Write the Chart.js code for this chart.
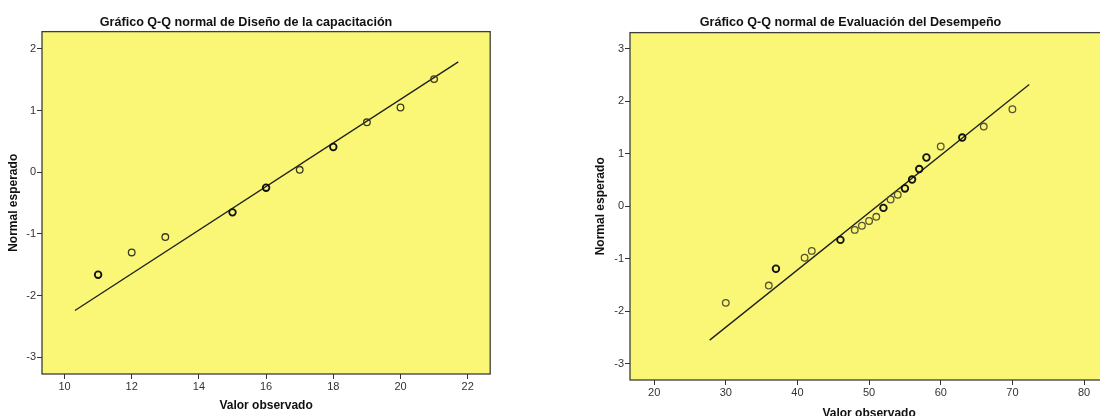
<!DOCTYPE html>
<html>
<head>
<meta charset="utf-8">
<script src="https://cdn.jsdelivr.net/npm/chart.js@4/dist/chart.umd.min.js"></script>
<style>
body{margin:0;background:#fff;overflow:hidden;width:1100px;height:416px;position:relative}
canvas{position:absolute;top:0}
#qqDiseno{left:0}
#qqEvaluacion{left:588px}
</style>
</head>
<body>
<canvas id="qqDiseno" width="496" height="416"></canvas>
<canvas id="qqEvaluacion" width="526" height="424"></canvas>
<script>
// Diseño de la capacitación
const disenoValor = [11, 12, 13, 15, 16, 17, 18, 19, 20, 21];
const disenoEsperado = [-1.66, -1.30, -1.05, -0.65, -0.25, 0.04, 0.41, 0.81, 1.05, 1.51];
const disenoRepetido = [1, 0, 0, 1, 1, 0, 1, 0, 0, 0];
const disenoRectaX = [10.31, 21.72];
const disenoRectaY = [-2.24, 1.79];
const disenoTicksX = [10, 12, 14, 16, 18, 20, 22];
const disenoTicksY = [-3, -2, -1, 0, 1, 2];
const disenoRangoX = [9.33, 22.67];
const disenoRangoY = [-3.27, 2.28];

// Evaluación del Desempeño
const evalValor = [30, 36, 37, 41, 42, 46, 48, 49, 50, 51, 52, 53, 54, 55, 56, 57, 58, 60, 63, 66, 70];
const evalEsperado = [-1.84, -1.51, -1.19, -0.98, -0.85, -0.64, -0.45, -0.37, -0.28, -0.20, -0.03, 0.13, 0.22, 0.34, 0.51, 0.71, 0.93, 1.14, 1.31, 1.52, 1.85];
const evalRepetido = [0, 0, 1, 0, 0, 1, 0, 0, 0, 0, 1, 0, 0, 1, 1, 1, 1, 0, 1, 0, 0];
const evalRectaX = [27.75, 72.35];
const evalRectaY = [-2.55, 2.32];
const evalTicksX = [20, 30, 40, 50, 60, 70, 80];
const evalTicksY = [-3, -2, -1, 0, 1, 2, 3];
const evalRangoX = [16.63, 83.37];
const evalRangoY = [-3.31, 3.31];

const fuente = "'Liberation Sans', Arial, sans-serif";

// fondo amarillo y marco del area de graficos
const marco = {
    id: 'marco',
    beforeDraw(chart) {
        const a = chart.chartArea, ctx = chart.ctx;
        ctx.save();
        ctx.fillStyle = '#f9f775';
        ctx.fillRect(a.left, a.top, a.right - a.left, a.bottom - a.top);
        ctx.restore();
    },
    afterDraw(chart) {
        const a = chart.chartArea, ctx = chart.ctx;
        ctx.save();
        ctx.strokeStyle = '#3c3c3c';
        ctx.lineWidth = 1.3;
        ctx.strokeRect(a.left, a.top, a.right - a.left, a.bottom - a.top);
        ctx.restore();
    }
};

function qqChart(id, titulo, valores, esperados, repetidos, rectaX, rectaY, ticksX, ticksY, rangoX, rangoY, conf) {
    let puntos = valores.map((v, i) => ({x: v, y: esperados[i]}));
    let recta = rectaX.map((v, i) => ({x: v, y: rectaY[i]}));
    let ctx = document.getElementById(id).getContext('2d');
    return new Chart(ctx, {
        type: 'scatter',
        data: {
            datasets: [{
                data: puntos,
                pointStyle: 'circle',
                pointRadius: 3.3,
                backgroundColor: 'rgba(0,0,0,0)',
                pointBorderColor: repetidos.map(r => r ? '#111' : conf.colorSimple),
                pointBorderWidth: repetidos.map(r => r ? 1.8 : 1.3)
            }, {
                type: 'line',
                data: recta,
                borderColor: '#1e1e1e',
                borderWidth: 1.3,
                pointRadius: 0,
                fill: false
            }]
        },
        options: {
            responsive: false,
            animation: false,
            layout: {padding: {left: 0, right: conf.derecha, top: 0, bottom: 0}},
            plugins: {
                legend: {display: false},
                tooltip: {enabled: false},
                title: {
                    display: true,
                    text: titulo,
                    color: '#111',
                    font: {family: fuente, size: 12.6, weight: 'bold', lineHeight: 1.2},
                    padding: {top: 14.5, bottom: conf.tituloAbajo}
                }
            },
            scales: {
                x: {
                    type: 'linear',
                    min: rangoX[0],
                    max: rangoX[1],
                    afterBuildTicks: s => { s.ticks = ticksX.map(v => ({value: v})); },
                    afterFit: s => { s.height = conf.altoX; },
                    border: {display: false},
                    grid: {drawOnChartArea: false, drawTicks: true, tickLength: 5, color: '#333', lineWidth: 1},
                    ticks: {color: '#333', padding: 1, maxRotation: 0, font: {family: fuente, size: 11}},
                    title: {
                        display: true,
                        text: 'Valor observado',
                        color: '#111',
                        font: {family: fuente, size: 12, weight: 'bold', lineHeight: 1.2},
                        padding: {top: 0, bottom: conf.ejeXAbajo}
                    }
                },
                y: {
                    type: 'linear',
                    min: rangoY[0],
                    max: rangoY[1],
                    afterBuildTicks: s => { s.ticks = ticksY.map(v => ({value: v})); },
                    afterFit: s => { s.width = 42; },
                    border: {display: false},
                    grid: {drawOnChartArea: false, drawTicks: true, tickLength: 5, color: '#333', lineWidth: 1},
                    ticks: {color: '#333', padding: 1, font: {family: fuente, size: 11}},
                    title: {
                        display: true,
                        text: 'Normal esperado',
                        color: '#111',
                        font: {family: fuente, size: 12, weight: 'bold', lineHeight: 1.2},
                        padding: {top: conf.ejeYIzq, bottom: 0}
                    }
                }
            }
        },
        plugins: [marco]
    });
}

qqChart('qqDiseno', 'Gráfico Q-Q normal de Diseño de la capacitación',
    disenoValor, disenoEsperado, disenoRepetido, disenoRectaX, disenoRectaY,
    disenoTicksX, disenoTicksY, disenoRangoX, disenoRangoY,
    {derecha: 4, tituloAbajo: 2, altoX: 42, ejeXAbajo: 2.8, ejeYIzq: 6.8, colorSimple: '#3a3820'});

qqChart('qqEvaluacion', 'Gráfico Q-Q normal de Evaluación del Desempeño',
    evalValor, evalEsperado, evalRepetido, evalRectaX, evalRectaY,
    evalTicksX, evalTicksY, evalRangoX, evalRangoY,
    {derecha: 1, tituloAbajo: 3, altoX: 44, ejeXAbajo: 2.8, ejeYIzq: 5.8, colorSimple: '#57552f'});
</script>
</body>
</html>
